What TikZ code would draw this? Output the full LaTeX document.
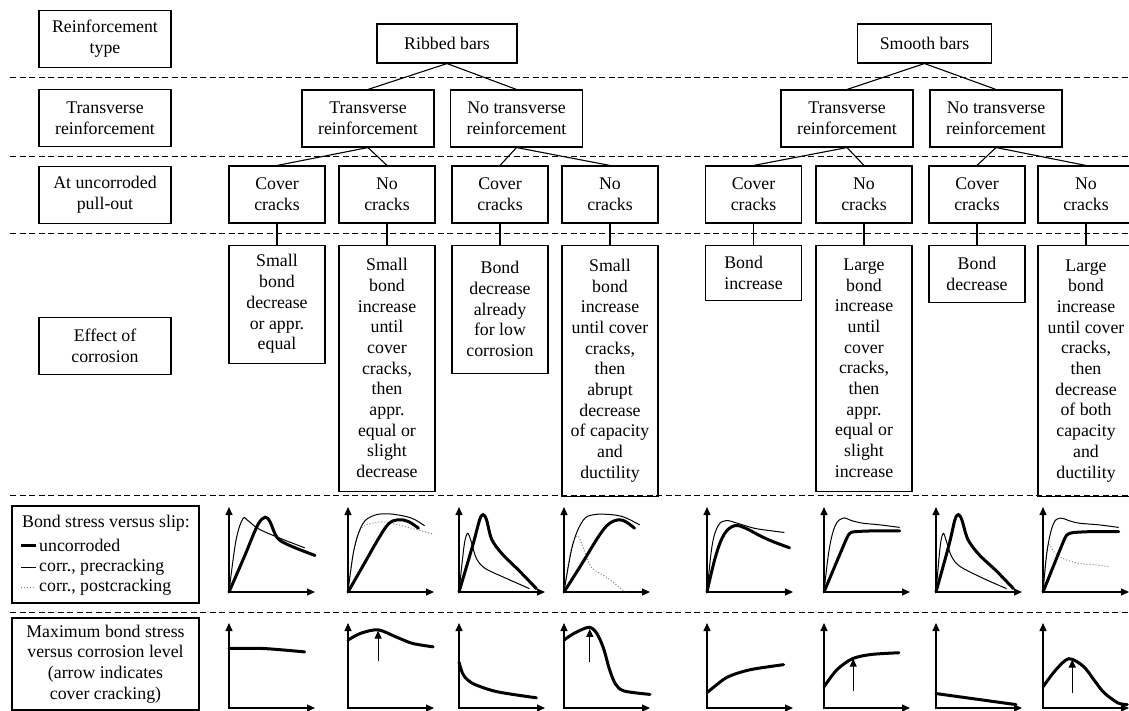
\documentclass[tikz,border=0pt]{standalone}
\usepackage{fontspec}
\setmainfont{Liberation Serif}
\usetikzlibrary{positioning,arrows.meta}

\begin{document}
\begin{tikzpicture}[
  x=1pt, y=-1pt,
  >={Triangle[length=8pt,width=7pt]},
  font=\fontsize{17.8}{20.7}\selectfont,
  box/.style={draw, line width=1.1pt, align=center, inner sep=2pt},
  lblbox/.style={box, minimum width=132pt, minimum height=57pt},
  catbox/.style={box, minimum width=132pt, minimum height=57pt},
  crackbox/.style={box, minimum width=96pt, minimum height=57pt},
  effbox/.style={box, minimum width=96pt},
  link/.style={line width=1.1pt},
  tierline/.style={line width=1pt, dash pattern=on 6pt off 3.5pt},
  plotaxis/.style={line width=1.1pt, <->},
  uncorr/.style={line width=3pt, line cap=round},
  precr/.style={line width=1pt},
  postcr/.style={line width=1pt, dotted, gray},
  crackarrow/.style={line width=1.1pt, ->}
]
  \useasboundingbox (0,0) rectangle (1129,710);

  % row separators
  \foreach \ty in {77,156,233,495,612}
    \draw[tierline] (10,\ty) -- (1129,\ty);

  % left column labels
  \node[lblbox] (ltype) at (105,39) {Reinforcement\\type};
  \node[lblbox] (ltrans) at (105,118) {Transverse\\reinforcement};
  \node[lblbox] (lpull) at (105,195) {At uncorroded\\pull-out};
  \node[lblbox] (leffect) at (105,346) {Effect of\\corrosion};

  % tree
  \node[box, minimum width=140pt, minimum height=39pt] (rb) at (447,43.5) {Ribbed bars};
  \node[box, minimum width=134pt, minimum height=39pt] (sb) at (924.5,43.5) {Smooth bars};

  \node[catbox] (rt) at (368,118.5) {Transverse\\reinforcement};
  \node[catbox] (rn) at (516.5,118.5) {No transverse\\reinforcement};
  \node[catbox] (st) at (847,118.5) {Transverse\\reinforcement};
  \node[catbox] (sn) at (996,118.5) {No transverse\\reinforcement};

  \node[crackbox] (cc1) at (277,194.5) {Cover\\cracks};
  \node[crackbox] (nc1) at (387,194.5) {No\\cracks};
  \node[crackbox] (cc2) at (500,194.5) {Cover\\cracks};
  \node[crackbox] (nc2) at (610,194.5) {No\\cracks};
  \node[crackbox] (cc3) at (753.5,194.5) {Cover\\cracks};
  \node[crackbox] (nc3) at (864,194.5) {No\\cracks};
  \node[crackbox] (cc4) at (977,194.5) {Cover\\cracks};
  \node[crackbox] (nc4) at (1086,194.5) {No\\cracks};

  \node[effbox, minimum height=118pt, below=21pt of cc1] (effa)
    {Small\\bond\\decrease\\or appr.\\equal};
  \node[effbox, minimum height=246pt, below=21pt of nc1] (effb)
    {Small\\bond\\increase\\until\\cover\\cracks,\\then\\appr.\\equal or\\slight\\decrease};
  \node[effbox, minimum height=128pt, below=21pt of cc2] (effc)
    {Bond\\decrease\\already\\for low\\corrosion};
  \node[effbox, minimum height=251pt, below=21pt of nc2] (effd)
    {Small\\bond\\increase\\until cover\\cracks,\\then\\abrupt\\decrease\\of capacity\\and\\ductility};
  \node[effbox, minimum height=55pt, align=left, below=21pt of cc3] (effe)
    {Bond\\increase};
  \node[effbox, minimum height=246pt, below=21pt of nc3] (efff)
    {Large\\bond\\increase\\until\\cover\\cracks,\\then\\appr.\\equal or\\slight\\increase};
  \node[effbox, minimum height=57pt, below=21pt of cc4] (effg)
    {Bond\\decrease};
  \node[effbox, minimum height=251pt, below=21pt of nc4] (effh)
    {Large\\bond\\increase\\until cover\\cracks,\\then\\decrease\\of both\\capacity\\and\\ductility};

  \draw[link] (rb.south) -- (rt.north);
  \draw[link] (rb.south) -- (rn.north);
  \draw[link] (sb.south) -- (st.north);
  \draw[link] (sb.south) -- (sn.north);
  \draw[link] (rt.south) -- (cc1.north);
  \draw[link] (rt.south) -- (nc1.north);
  \draw[link] (rn.south) -- (cc2.north);
  \draw[link] (rn.south) -- (nc2.north);
  \draw[link] (st.south) -- (cc3.north);
  \draw[link] (st.south) -- (nc3.north);
  \draw[link] (sn.south) -- (cc4.north);
  \draw[link] (sn.south) -- (nc4.north);
  \draw[link] (cc1) -- (effa);
  \draw[link] (nc1) -- (effb);
  \draw[link] (cc2) -- (effc);
  \draw[link] (nc2) -- (effd);
  \draw[link] (cc3) -- (effe);
  \draw[link] (nc3) -- (efff);
  \draw[link] (cc4) -- (effg);
  \draw[link] (nc4) -- (effh);

  % legend and lower labels
  \node[box, minimum width=187pt, minimum height=97pt] (legend) at (105.5,554.5) {};
  \node (legtitle) at (106,523) {Bond stress versus slip:};
  \node[anchor=west, inner sep=0pt] (leguncorr) at (39,545) {uncorroded};
  \node[anchor=west, inner sep=0pt] (legprecr) at (39,567) {corr., precracking};
  \node[anchor=west, inner sep=0pt] (legpostcr) at (39,587) {corr., postcracking};
  \draw[uncorr, line cap=butt] (21,545) -- (36,545);
  \draw[precr] (21,567) -- (36,567);
  \draw[postcr] (21,587) -- (36,587);

  \node[box, minimum width=187pt, minimum height=92pt] (maxlbl) at (105.5,664)
    {Maximum bond stress\\versus corrosion level\\(arrow indicates\\cover cracking)};

  % axes of all small plots
  \foreach \ox in {229,348,459,564,707,824,936,1043}
    \foreach \oy in {592,708}
      \draw[plotaxis] (\ox,\oy-85) |- (\ox+86,\oy);

  % bond stress versus slip
  \begin{scope}[shift={(229,592)}, x=86pt, y=85pt]
    \draw[precr] plot[smooth, tension=0.6] coordinates {(0,0) (0.08,0.6) (0.16,0.86) (0.22,0.84) (0.35,0.74) (0.6,0.63) (0.88,0.52)};
    \draw[uncorr] plot[smooth, tension=0.6] coordinates {(0,0) (0.18,0.42) (0.33,0.78) (0.42,0.88) (0.48,0.82) (0.56,0.64) (0.7,0.55) (1,0.43)};
  \end{scope}
  \begin{scope}[shift={(348,592)}, x=86pt, y=85pt]
    \draw[postcr] plot[smooth, tension=0.6] coordinates {(0,0) (0.07,0.5) (0.15,0.74) (0.28,0.81) (0.45,0.82) (0.7,0.76) (1,0.68)};
    \draw[precr] plot[smooth, tension=0.6] coordinates {(0,0) (0.07,0.5) (0.17,0.8) (0.3,0.9) (0.45,0.92) (0.62,0.9) (0.76,0.86) (0.89,0.78)};
    \draw[uncorr] plot[smooth, tension=0.6] coordinates {(0,0) (0.17,0.3) (0.35,0.62) (0.47,0.8) (0.58,0.85) (0.7,0.83) (0.82,0.75)};
  \end{scope}
  \begin{scope}[shift={(459,592)}, x=86pt, y=85pt]
    \draw[precr] plot[smooth, tension=0.5] coordinates {(0,0) (0.06,0.55) (0.1,0.69) (0.14,0.6) (0.2,0.4) (0.3,0.28) (0.55,0.16) (0.82,0.04)};
    \draw[uncorr] plot[smooth, tension=0.5] coordinates {(0,0) (0.16,0.55) (0.24,0.85) (0.28,0.91) (0.32,0.85) (0.38,0.62) (0.5,0.45) (0.7,0.25) (0.9,0.04)};
  \end{scope}
  \begin{scope}[shift={(564,592)}, x=86pt, y=85pt]
    \draw[postcr] plot[smooth, tension=0.6] coordinates {(0,0) (0.08,0.5) (0.15,0.66) (0.21,0.56) (0.28,0.36) (0.35,0.26) (0.5,0.17) (0.71,0)};
    \draw[precr] plot[smooth, tension=0.6] coordinates {(0,0) (0.1,0.55) (0.22,0.84) (0.35,0.91) (0.55,0.91) (0.7,0.88) (0.88,0.79)};
    \draw[uncorr] plot[smooth, tension=0.6] coordinates {(0,0) (0.2,0.32) (0.4,0.65) (0.52,0.8) (0.64,0.85) (0.73,0.82) (0.82,0.75)};
  \end{scope}
  \begin{scope}[shift={(707,592)}, x=86pt, y=85pt]
    \draw[precr] plot[smooth, tension=0.6] coordinates {(0,0) (0.06,0.55) (0.13,0.78) (0.22,0.84) (0.35,0.81) (0.55,0.75) (0.75,0.72) (0.9,0.7)};
    \draw[uncorr] plot[smooth, tension=0.6] coordinates {(0,0) (0.1,0.42) (0.2,0.68) (0.32,0.78) (0.45,0.75) (0.6,0.67) (0.75,0.6) (0.96,0.52)};
  \end{scope}
  \begin{scope}[shift={(824,592)}, x=86pt, y=85pt]
    \draw[precr] plot[smooth, tension=0.6] coordinates {(0,0) (0.06,0.5) (0.13,0.78) (0.22,0.87) (0.32,0.84) (0.45,0.81) (0.65,0.79) (0.88,0.76)};
    \draw[uncorr] plot[smooth, tension=0.4] coordinates {(0,0) (0.25,0.6) (0.3,0.69) (0.36,0.71) (0.6,0.72) (0.88,0.72)};
  \end{scope}
  \begin{scope}[shift={(936,592)}, x=86pt, y=85pt]
    \draw[precr] plot[smooth, tension=0.5] coordinates {(0,0) (0.05,0.55) (0.085,0.69) (0.12,0.6) (0.18,0.42) (0.28,0.3) (0.55,0.16) (0.82,0.04)};
    \draw[uncorr] plot[smooth, tension=0.5] coordinates {(0,0) (0.15,0.55) (0.22,0.85) (0.26,0.91) (0.3,0.85) (0.37,0.62) (0.5,0.44) (0.7,0.25) (0.9,0.04)};
  \end{scope}
  \begin{scope}[shift={(1043,592)}, x=86pt, y=85pt]
    \draw[postcr] plot[smooth, tension=0.6] coordinates {(0,0) (0.04,0.45) (0.07,0.56) (0.13,0.47) (0.22,0.4) (0.4,0.34) (0.6,0.32) (0.76,0.3)};
    \draw[precr] plot[smooth, tension=0.6] coordinates {(0,0) (0.05,0.5) (0.12,0.8) (0.2,0.87) (0.3,0.84) (0.42,0.81) (0.65,0.79) (0.88,0.76)};
    \draw[uncorr] plot[smooth, tension=0.4] coordinates {(0,0) (0.24,0.6) (0.29,0.68) (0.36,0.7) (0.55,0.71) (0.88,0.71)};
  \end{scope}

  % maximum bond stress versus corrosion level
  \begin{scope}[shift={(229,708)}, x=86pt, y=85pt]
    \draw[uncorr] plot[smooth] coordinates {(0,0.7) (0.4,0.7) (0.88,0.66)};
  \end{scope}
  \begin{scope}[shift={(348,708)}, x=86pt, y=85pt]
    \draw[uncorr] plot[smooth] coordinates {(0,0.8) (0.15,0.88) (0.35,0.92) (0.55,0.84) (0.75,0.76) (0.99,0.72)};
    \draw[crackarrow] (0.35,0.55) -- (0.35,0.91);
  \end{scope}
  \begin{scope}[shift={(459,708)}, x=86pt, y=85pt]
    \draw[uncorr] plot[smooth] coordinates {(0,0.54) (0.04,0.41) (0.1,0.33) (0.2,0.27) (0.45,0.19) (0.9,0.12)};
  \end{scope}
  \begin{scope}[shift={(564,708)}, x=86pt, y=85pt]
    \draw[uncorr] plot[smooth] coordinates {(0,0.8) (0.12,0.88) (0.29,0.95) (0.38,0.88) (0.46,0.7) (0.53,0.45) (0.6,0.28) (0.7,0.2) (1,0.16)};
    \draw[crackarrow] (0.3,0.54) -- (0.3,0.93);
  \end{scope}
  \begin{scope}[shift={(707,708)}, x=86pt, y=85pt]
    \draw[uncorr] plot[smooth] coordinates {(0,0.18) (0.12,0.28) (0.25,0.37) (0.5,0.45) (0.89,0.51)};
  \end{scope}
  \begin{scope}[shift={(824,708)}, x=86pt, y=85pt]
    \draw[uncorr] plot[smooth] coordinates {(0,0.25) (0.15,0.45) (0.33,0.58) (0.55,0.63) (0.87,0.65)};
    \draw[crackarrow] (0.34,0.2) -- (0.34,0.58);
  \end{scope}
  \begin{scope}[shift={(936,708)}, x=86pt, y=85pt]
    \draw[uncorr] plot[smooth] coordinates {(0,0.17) (0.5,0.1) (0.93,0.04)};
  \end{scope}
  \begin{scope}[shift={(1043,708)}, x=86pt, y=85pt]
    \draw[uncorr] plot[smooth] coordinates {(0,0.25) (0.15,0.45) (0.3,0.58) (0.47,0.49) (0.6,0.32) (0.71,0.18) (0.87,0.06) (0.98,0.04)};
    \draw[crackarrow] (0.34,0.18) -- (0.34,0.57);
  \end{scope}
\end{tikzpicture}
\end{document}
